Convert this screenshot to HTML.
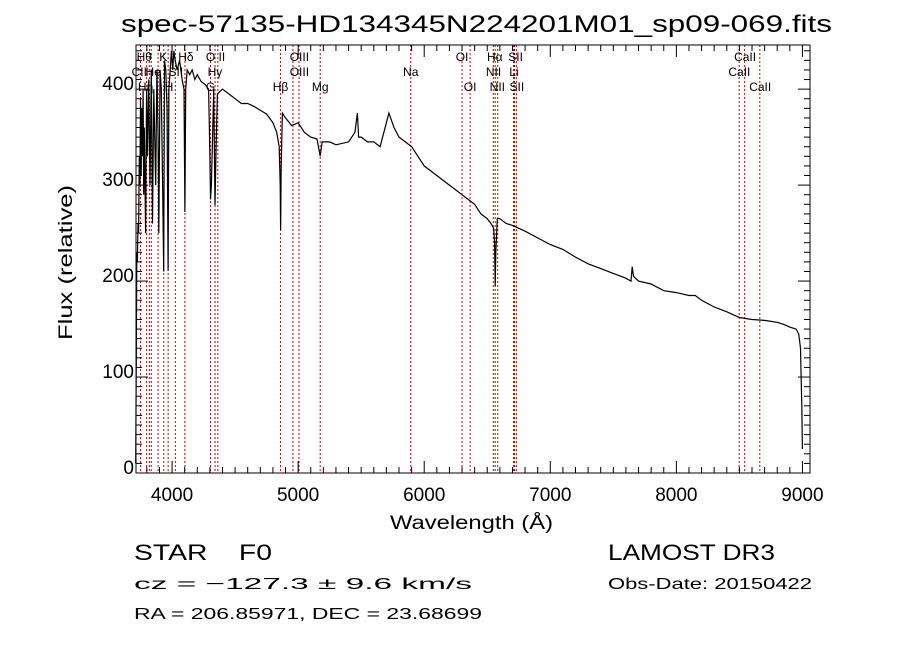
<!DOCTYPE html>
<html><head><meta charset="utf-8"><style>
body{margin:0;background:#fff;width:900px;height:649px;overflow:hidden;font-family:"Liberation Sans",sans-serif}
svg text{font-family:"Liberation Sans",sans-serif}
</style></head><body>
<svg id="chart" width="900" height="649">
<text x="121" y="32" font-size="24" textLength="711" lengthAdjust="spacingAndGlyphs">spec-57135-HD134345N224201M01_sp09-069.fits</text>
<g id="lines"></g>
<g id="spec"></g>
<g id="axes"></g>
<text x="390" y="529" font-size="19" textLength="163" lengthAdjust="spacingAndGlyphs">Wavelength (Å)</text>
<text transform="translate(72,340) rotate(-90)" font-size="19" textLength="155" lengthAdjust="spacingAndGlyphs">Flux (relative)</text>
<text x="134" y="560" font-size="22" textLength="138" lengthAdjust="spacingAndGlyphs">STAR&#160;&#160;&#160;&#160;F0</text>
<text x="608" y="560" font-size="22" textLength="167" lengthAdjust="spacingAndGlyphs">LAMOST DR3</text>
<text x="134" y="589" font-size="16" textLength="338" lengthAdjust="spacingAndGlyphs">cz = −127.3 ± 9.6 km/s</text>
<text x="608" y="589" font-size="16" textLength="204" lengthAdjust="spacingAndGlyphs">Obs-Date: 20150422</text>
<text x="134" y="619" font-size="16" textLength="348" lengthAdjust="spacingAndGlyphs">RA = 206.85971, DEC =  23.68699</text>
</svg>
<script>
const lineWaves=[3750,3798,3820,3835,3889,3934,3969,4026,4102,4305,4341,4363,4861,4959,5007,5175,5893,6300,6364,6548,6563,6583,6708,6716,6731,8498,8542,8662];
const labelNames=["Hθ","CII","He","Hη","K","H","SII","Hδ","O II","G","Hγ","OIII","OIII","Hβ","Mg","Na","OI","OI","Hα","NII","NII","SII","Li","SII","CaII","CaII","CaII"];
const labelWaves=[3780,3740,3850,3790,3930,3975,4030,4110,4345,4305,4340,5010,5010,4860,5175,5893,6300,6364,6560,6550,6580,6725,6712,6735,8545,8500,8665];
const labelRows=[0,1,1,2,0,2,1,0,0,2,1,0,1,2,2,1,0,2,0,1,2,0,1,2,0,1,2];
const specWave=[3712,3716,3720,3725,3730,3735,3740,3745,3750,3755,3760,3765,3770,3775,3780,3790,3798,3805,3815,3825,3835,3845,3855,3870,3880,3889,3895,3905,3915,3925,3934,3940,3950,3960,3969,3975,3985,3995,4005,4015,4025,4040,4060,4080,4095,4102,4108,4120,4140,4160,4180,4200,4230,4260,4290,4300,4305,4312,4330,4341,4348,4360,4400,4450,4500,4550,4600,4650,4700,4750,4800,4830,4850,4858,4861,4866,4875,4900,4950,5000,5050,5100,5150,5175,5190,5250,5300,5400,5450,5470,5480,5500,5550,5600,5650,5700,5720,5760,5800,5850,5900,5950,6000,6100,6200,6250,6300,6350,6400,6450,6500,6530,6550,6558,6563,6568,6580,6600,6650,6700,6750,6800,6900,7000,7100,7200,7300,7400,7500,7600,7640,7650,7660,7700,7800,7900,8000,8100,8150,8200,8300,8400,8500,8600,8700,8800,8850,8900,8950,8970,8985,8995,9000];
const specFlux=[10,120,230,220,260,250,330,300,390,310,380,330,400,290,360,250,400,330,410,300,420,260,400,300,420,350,250,420,400,300,210,430,420,380,211,400,420,440,420,440,430,420,430,410,400,272,400,420,415,420,410,415,408,405,400,330,285,300,400,279,330,395,400,395,390,385,385,382,378,374,365,355,340,300,253,320,375,370,362,365,355,350,348,330,345,345,342,345,355,375,350,350,345,345,340,365,375,360,350,345,340,330,320,310,300,295,290,285,280,270,265,260,255,240,195,230,265,265,260,258,255,252,245,238,233,225,218,213,208,203,200,215,205,200,197,190,188,185,185,180,173,168,162,160,159,157,155,152,150,145,130,70,25];
const X0=3714,X1=9060,PX0=136,PX1=810,Y0=0,Y1=446,PY0=473,PY1=45;
const sx=w=>PX0+(w-X0)/(X1-X0)*(PX1-PX0);
const sy=v=>PY0-(v-Y0)/(Y1-Y0)*(PY0-PY1);
const NS="http://www.w3.org/2000/svg";
function mk(t,a,p){const e=document.createElementNS(NS,t);for(const k in a)e.setAttribute(k,a[k]);p.appendChild(e);return e;}
const gl=document.getElementById('lines');
lineWaves.forEach(w=>{const l=mk('line',{x1:sx(w),x2:sx(w),y1:PY1,y2:PY0,stroke:'#c00000','stroke-width':1,'stroke-dasharray':'2,2'},gl);

});
labelNames.forEach((n,i)=>{const t=mk('text',{x:sx(labelWaves[i]),y:61+labelRows[i]*15,'font-size':12,'text-anchor':'middle','font-family':'Liberation Serif'},gl);t.textContent=n;

});
const gs=document.getElementById('spec');
const pts=specWave.map((w,i)=>sx(w).toFixed(1)+','+Math.max(PY1,sy(specFlux[i])).toFixed(1)).join(' ');
const pl=mk('polyline',{points:pts,fill:'none',stroke:'#000','stroke-width':1.2},gs);


const ga=document.getElementById('axes');
const fr=mk('rect',{x:PX0,y:PY1,width:PX1-PX0,height:PY0-PY1,fill:'none',stroke:'#000','stroke-width':1},ga);


const xTicks=[4000,5000,6000,7000,8000,9000];
for(let w=3800;w<=9050;w+=100){const x=sx(w),big=w%1000==0,h=big?12:6;
mk('line',{x1:x,x2:x,y1:PY0,y2:PY0-h,stroke:'#000'},ga);mk('line',{x1:x,x2:x,y1:PY1,y2:PY1+h,stroke:'#000'},ga);}
xTicks.forEach(w=>{const t=mk('text',{x:sx(w),y:PY0+28,'font-size':19,'text-anchor':'middle'},ga);t.textContent=w;

});
const yTicks=[0,100,200,300,400];
for(let v=0;v<=440;v+=10){const y=sy(v),big=v%100==0,h=big?12:6;
mk('line',{x1:PX0,x2:PX0+h,y1:y,y2:y,stroke:'#000'},ga);mk('line',{x1:PX1,x2:PX1-h,y1:y,y2:y,stroke:'#000'},ga);}
yTicks.forEach(v=>{const t=mk('text',{x:PX0-2,y:sy(v)+1,'font-size':19,'text-anchor':'end'},ga);t.textContent=v;

});
</script>
</body></html>
